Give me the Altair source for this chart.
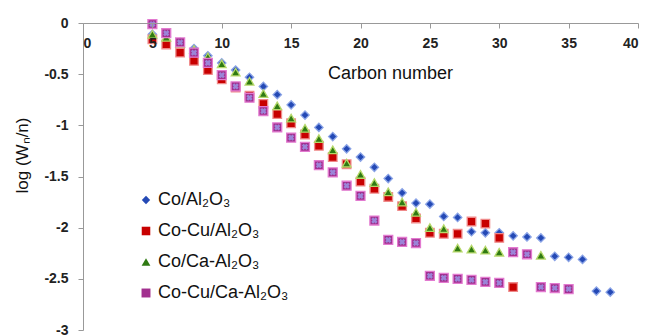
import altair as alt
import pandas as pd

series_names = ["Co/Al₂O₃", "Co-Cu/Al₂O₃", "Co/Ca-Al₂O₃", "Co-Cu/Ca-Al₂O₃"]

blue_n = list(range(5, 39))
blue_v = [-0.11, -0.13, -0.19, -0.25, -0.32, -0.39, -0.46, -0.53, -0.62, -0.70,
          -0.80, -0.90, -1.02, -1.11, -1.23, -1.31, -1.41, -1.52, -1.66, -1.76,
          -1.77, -1.89, -1.90, -2.04, -2.05, -2.05, -2.08, -2.09, -2.10, -2.28,
          -2.29, -2.31, -2.62, -2.63]

red_n = list(range(5, 32))
red_v = [-0.16, -0.21, -0.29, -0.37, -0.46, -0.55, -0.63, -0.71, -0.79, -0.89,
         -0.98, -1.09, -1.20, -1.31, -1.38, -1.55, -1.62, -1.70, -1.79, -1.91,
         -2.05, -2.06, -2.06, -1.94, -1.96, -2.10, -2.58]

green_n = list(range(5, 31)) + [33]
green_v = [-0.11, -0.14, -0.20, -0.26, -0.33, -0.40, -0.48, -0.57, -0.69, -0.81,
           -0.93, -1.03, -1.13, -1.24, -1.37, -1.48, -1.56, -1.65, -1.75, -1.85,
           -2.00, -2.01, -2.20, -2.21, -2.22, -2.24, -2.27]

pink_n = list(range(5, 36))
pink_v = [-0.01, -0.10, -0.19, -0.29, -0.39, -0.51, -0.62, -0.73, -0.86, -1.02,
          -1.12, -1.21, -1.39, -1.46, -1.59, -1.69, -1.93, -2.12, -2.14, -2.15,
          -2.47, -2.49, -2.50, -2.51, -2.53, -2.54, -2.24, -2.26, -2.58, -2.59,
          -2.60]

x_ticks = [0, 5, 10, 15, 20, 25, 30, 35, 40]
y_ticks = [0, -0.5, -1, -1.5, -2, -2.5, -3]

fills = ["#2449b5", "#c80000", "#2f7a12", "#a2308f"]
strokes = ["#8aa3e6", "#ef8a8a", "#b5d86a", "#e27ad0"]
shapes = ["diamond", "square", "triangle-up", "square"]

rows = []
for name, ns, vs in zip(series_names, [blue_n, red_n, green_n, pink_n],
                        [blue_v, red_v, green_v, pink_v]):
    for n, v in zip(ns, vs):
        rows.append({"series": name, "n": n, "v": v})
df = pd.DataFrame(rows)

FONT = "Liberation Sans"

x_enc = alt.X("n:Q", scale=alt.Scale(domain=[0, 40], nice=False),
              axis=alt.Axis(orient="bottom", offset=-307, values=x_ticks, zindex=1,
                            title="Carbon number", titleFontSize=18,
                            titleFontWeight="normal", titleFont=FONT,
                            titleColor="#111", titleX=307, titleY=50,
                            titleAlign="center", titleBaseline="middle",
                            labelFont=FONT, labelFontSize=14, labelFontWeight="bold",
                            labelColor="#222", labelPadding=8, tickSize=5,
                            domainColor="#999", tickColor="#999", grid=False))
y_enc = alt.Y("v:Q", scale=alt.Scale(domain=[-3, 0], nice=False, zero=False),
              axis=alt.Axis(values=y_ticks, title="log (Wₙ/n)", titleFontSize=17,
                            titleFontWeight="normal", titleFont=FONT, titleColor="#111",
                            titleX=-61, titleY=132, titleAlign="center",
                            titleBaseline="middle", titleAngle=270,
                            labelExpr="toString(datum.value)",
                            labelFont=FONT, labelFontSize=14, labelFontWeight="bold",
                            labelColor="#222", labelPadding=10, tickSize=5,
                            domainColor="#999", tickColor="#999", grid=False))

legend_kw = dict(title=None, orient="none", legendX=54, legendY=168,
                 labelFont=FONT, labelFontSize=18, labelColor="#111",
                 symbolSize=40, rowPadding=13, labelOffset=3,
                 symbolStrokeWidth=0)

points = alt.Chart(df).mark_point(filled=True, strokeWidth=1.3, opacity=1).encode(
    x=x_enc,
    y=y_enc,
    color=alt.Color("series:N", scale=alt.Scale(domain=series_names, range=fills),
                    legend=alt.Legend(**legend_kw)),
    shape=alt.Shape("series:N", scale=alt.Scale(domain=series_names, range=shapes),
                    legend=alt.Legend(**legend_kw)),
    stroke=alt.Stroke("series:N", scale=alt.Scale(domain=series_names, range=strokes),
                      legend=None),
    size=alt.Size("series:N", scale=alt.Scale(domain=series_names, range=[70, 80, 80, 90]),
                  legend=None),
)

pink_df = df[df["series"] == series_names[3]]
crosses = alt.Chart(pink_df).mark_point(filled=True, shape="cross", angle=45, size=40,
                                        color="#9a8fe0", opacity=0.9).encode(
    x="n:Q", y="v:Q")

chart = alt.layer(points, crosses).properties(
    width=555, height=307,
    autosize=alt.AutoSizeParams(type="none"),
    padding={"left": 83, "top": 23, "right": 11, "bottom": 6},
    background="white",
).configure_view(stroke=None)

chart.save("out.html", embed_options={"renderer": "svg", "actions": False})
